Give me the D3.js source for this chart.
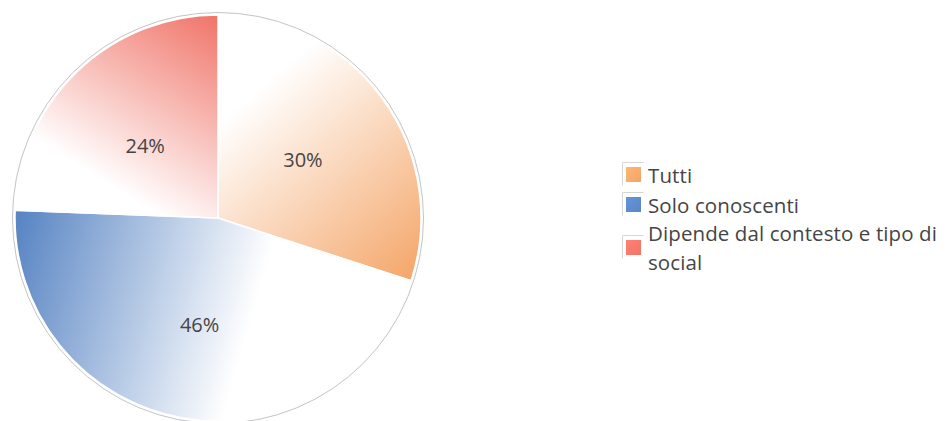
<!DOCTYPE html>
<html><head><meta charset="utf-8">
<script src="https://cdn.jsdelivr.net/npm/d3@7"></script>
<style>body{margin:0;background:#fff}svg{display:block}</style>
</head><body>
<svg id="c" width="947" height="421"></svg>
<script>
const categories = ["Tutti", "Solo conoscenti", "Dipende dal contesto e tipo di social"];
const values = [30, 45.6, 24.4];
const colors = ["#F4A466", "#5A86C4", "#F07468"];
const legendLines = [["Tutti"], ["Solo conoscenti"], ["Dipende dal contesto e tipo di", "social"]];

const svg = d3.select("#c");
const cx = 218, cy = 218, R = 203;
const defs = svg.append("defs");
// gradient axes (white -> colour), relative to the pie centre
const gradAxes = [
  [[30, -120], [195, 70]],
  [[40, 80], [-200, 10]],
  [[-115, -5], [5, -200]]
];
categories.forEach((c, i) => {
  const g = defs.append("linearGradient").attr("id", "g" + i)
    .attr("gradientUnits", "userSpaceOnUse")
    .attr("x1", gradAxes[i][0][0]).attr("y1", gradAxes[i][0][1])
    .attr("x2", gradAxes[i][1][0]).attr("y2", gradAxes[i][1][1]);
  g.append("stop").attr("offset", 0).attr("stop-color", "#fff");
  g.append("stop").attr("offset", i === 2 ? 0.12 : 0).attr("stop-color", "#fff");
  g.append("stop").attr("offset", 1).attr("stop-color", colors[i]);
  const gs = defs.append("linearGradient").attr("id", "s" + i)
    .attr("x1", 0).attr("y1", 0).attr("x2", 1).attr("y2", 1);
  gs.append("stop").attr("offset", 0).attr("stop-color", d3.color(colors[i]).brighter(0.3));
  gs.append("stop").attr("offset", 1).attr("stop-color", colors[i]);
});

const total = d3.sum(values);
const pie = d3.pie().sort(null).value(d => d)(values);
const arc = d3.arc().innerRadius(0).outerRadius(R);
const labelArc = d3.arc().innerRadius(0).outerRadius(210);

const g = svg.append("g").attr("transform", `translate(${cx},${cy})`);
g.append("circle").attr("r", 205.5).attr("fill", "none").attr("stroke", "#c4c4c4").attr("stroke-width", 1);
g.selectAll("path.s").data(pie).join("path").attr("class", "s")
  .attr("d", arc)
  .attr("fill", (d, i) => `url(#g${i})`)
  .attr("stroke", "#fff").attr("stroke-width", 1.5);

g.selectAll("text.lbl").data(pie).join("text").attr("class", "lbl")
  .attr("x", d => labelArc.centroid(d)[0])
  .attr("y", d => labelArc.centroid(d)[1] + 11)
  .attr("text-anchor", "middle")
  .attr("font-family", "Open Sans, sans-serif").attr("font-size", 20)
  .attr("fill", "#454545")
  .text(d => Math.round(d.value / total * 100) + "%");

// legend
const swY = [167, 197, 240];
const txtY = [183, 213, 241];
const lg = svg.append("g");
legendLines.forEach((lines, i) => {
  const y0 = swY[i] - 4.5, x0 = 622.5;
  lg.append("path").attr("d", `M${x0},${y0 + 23}V${y0}H${x0 + 21}`)
    .attr("fill", "none").attr("stroke", "#d6d6d6").attr("stroke-width", 1);
  lg.append("rect").attr("x", 626).attr("y", swY[i]).attr("width", 15).attr("height", 15)
    .attr("fill", `url(#s${i})`);
  lines.forEach((t, k) => {
    lg.append("text").attr("x", 648).attr("y", txtY[i] + k * 29)
      .attr("font-family", "Open Sans, sans-serif").attr("font-size", 20.5)
      .attr("letter-spacing", 0.1)
      .attr("fill", "#454545").text(t);
  });
});
</script>
</body></html>
